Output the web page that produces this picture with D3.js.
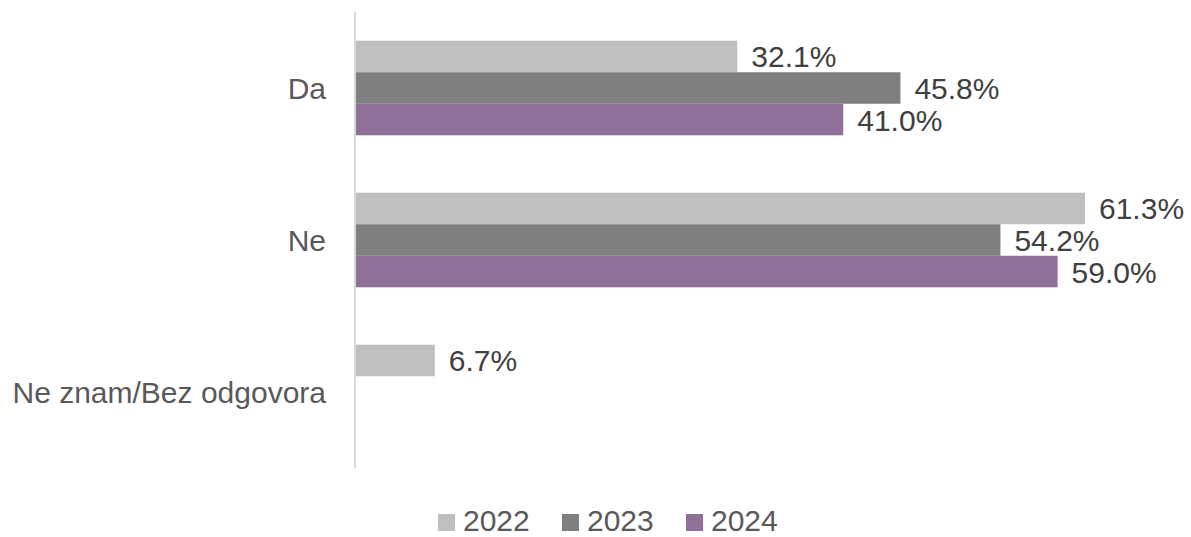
<!DOCTYPE html>
<html><head><meta charset="utf-8">
<script src="https://cdn.jsdelivr.net/npm/d3@7"></script>
<style>body{margin:0;background:#fff;}svg{display:block;font-family:"Liberation Sans",Arial,sans-serif;}</style>
</head><body>
<svg id="c" width="1191" height="537"></svg>
<script>
const categories = ["Da", "Ne", "Ne znam/Bez odgovora"];
const seriesNames = ["2022", "2023", "2024"];
const values2022 = [32.1, 61.3, 6.7];
const values2023 = [45.8, 54.2, null];
const values2024 = [41.0, 59.0, null];
const colors = ["#bfbfbf", "#7f7f7f", "#8e7099"];

const series = [values2022, values2023, values2024];
const svg = d3.select("#c");
const x = d3.scaleLinear().domain([0, 61.3]).range([355, 1085]);
const y = d3.scaleBand().domain(categories).range([12, 468]).paddingInner(0.378).paddingOuter(0.189);
const y1 = d3.scaleBand().domain(seriesNames).range([0, y.bandwidth()]);

categories.forEach((cat, i) => {
  const g = svg.append("g").attr("transform", `translate(0,${y(cat)})`);
  series.forEach((vals, s) => {
    const v = vals[i];
    if (v == null) return;
    g.append("rect").attr("x", x(0)).attr("y", y1(seriesNames[s]))
      .attr("width", x(v) - x(0)).attr("height", y1.bandwidth())
      .attr("fill", colors[s]);
    g.append("text").attr("x", x(v) + 14).attr("y", y1(seriesNames[s]) + y1.bandwidth() / 2 + 11)
      .attr("font-size", 30).attr("fill", "#404040").text(v.toFixed(1) + "%");
  });
});

svg.append("line").attr("x1", 355).attr("x2", 355).attr("y1", 12).attr("y2", 468)
  .attr("stroke", "#d9d9d9").attr("stroke-width", 2);

svg.selectAll("text.cat").data(categories).join("text").attr("class", "cat")
  .attr("x", 326).attr("y", d => y(d) + y.bandwidth() / 2 + 11)
  .attr("text-anchor", "end").attr("font-size", 30).attr("fill", "#595959").text(d => d);

const legend = svg.append("g");
const lx = [438, 562, 686];
seriesNames.forEach((n, i) => {
  legend.append("rect").attr("x", lx[i]).attr("y", 514).attr("width", 17).attr("height", 17).attr("fill", colors[i]);
  legend.append("text").attr("x", lx[i] + 25).attr("y", 531).attr("font-size", 30).attr("fill", "#595959").text(n);
});
</script>
</body></html>
